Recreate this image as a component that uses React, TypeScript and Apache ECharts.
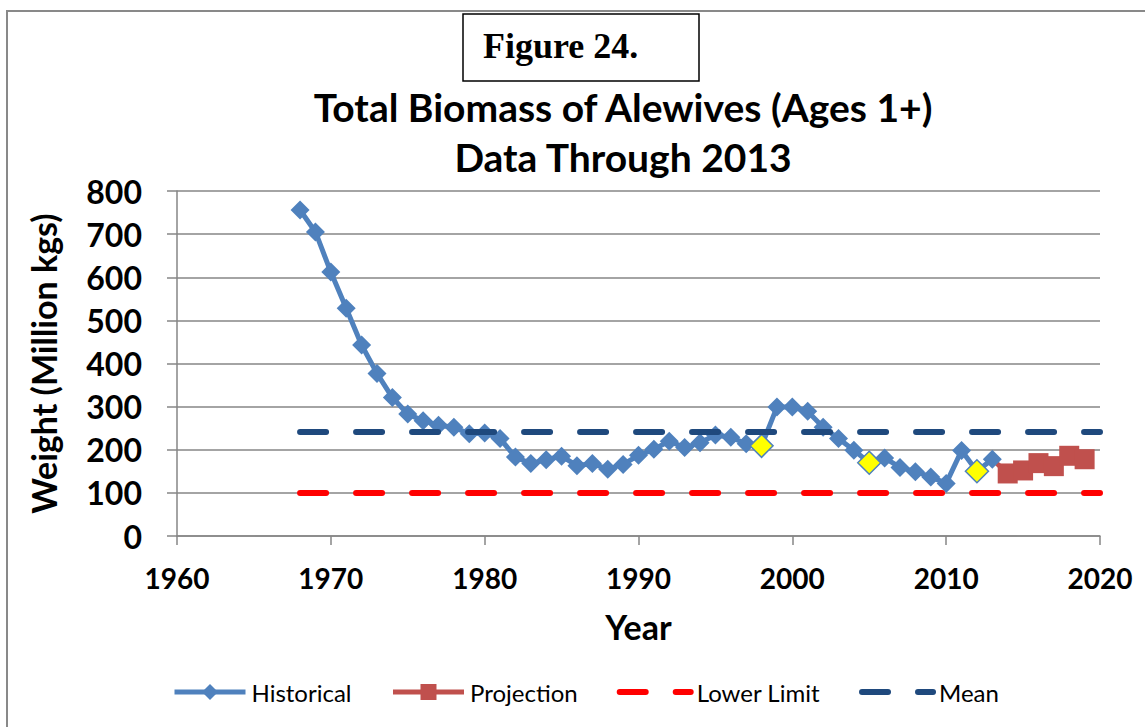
import React, { useEffect, useRef } from "react";
import * as echarts from "echarts";

const histYears = [1968, 1969, 1970, 1971, 1972, 1973, 1974, 1975, 1976, 1977, 1978, 1979, 1980, 1981, 1982, 1983, 1984, 1985, 1986, 1987, 1988, 1989, 1990, 1991, 1992, 1993, 1994, 1995, 1996, 1997, 1998, 1999, 2000, 2001, 2002, 2003, 2004, 2005, 2006, 2007, 2008, 2009, 2010, 2011, 2012, 2013];
const histValues = [756, 705, 612, 528, 443, 377, 321, 283, 267, 257, 252, 237, 239, 226, 183, 168, 177, 185, 163, 168, 155, 166, 187, 201, 220, 205, 216, 234, 229, 214, 209, 299, 299, 289, 252, 226, 199, 170, 181, 159, 149, 137, 122, 198, 150, 178];
const highlightYears = [1998, 2005, 2012];
const projYears = [2013, 2014, 2015, 2016, 2017, 2018, 2019];
const projValues = [178, 145, 152, 169, 162, 186, 178];
const lineYears = [1968, 2020];
const lowerLimit = 100;
const meanValue = 241;
const seriesNames = ["Historical", "Projection", "Lower Limit", "Mean"];

const FONT = "Lato, 'Open Sans', sans-serif";

export default function App() {
  const ref = useRef<HTMLDivElement>(null);
  useEffect(() => {
    if (!ref.current) return;
    const chart = echarts.init(ref.current, null, { renderer: "svg" });
    const histData = histYears.map((y, i) => {
      if (highlightYears.includes(y)) {
        return {
          value: [y, histValues[i]],
          symbolSize: 23,
          itemStyle: { color: "#FFFF00", borderColor: "#4F81BD", borderWidth: 1.5 },
        };
      }
      return { value: [y, histValues[i]] };
    });
    const projData = projYears.map((y, i) =>
      i === 0 ? { value: [y, projValues[i]], symbolSize: 0 } : { value: [y, projValues[i]] }
    );
    chart.setOption({
      animation: false,
      backgroundColor: "#ffffff",
      textStyle: { fontFamily: FONT },
      graphic: [
        { type: "rect", shape: { x: 7, y: 11, width: 1300, height: 900 }, style: { fill: "none", stroke: "#898989", lineWidth: 2 }, silent: true },
        { type: "rect", shape: { x: 463, y: 14, width: 236, height: 67 }, style: { fill: "#ffffff", stroke: "#000000", lineWidth: 1.5 }, silent: true },
        { type: "text", x: 483, y: 46, style: { text: "Figure 24.", fontFamily: "'Liberation Serif', 'Times New Roman', serif", fontWeight: "bold", fontSize: 36, fill: "#000", textAlign: "left", textVerticalAlign: "middle" } },
        { type: "text", x: 623, y: 107, style: { text: "Total Biomass of Alewives (Ages 1+)", fontFamily: FONT, fontWeight: "bold", fontSize: 39, fill: "#000", textAlign: "center", textVerticalAlign: "middle" } },
        { type: "text", x: 623, y: 157, style: { text: "Data Through 2013", fontFamily: FONT, fontWeight: "bold", fontSize: 39, fill: "#000", textAlign: "center", textVerticalAlign: "middle" } },
      ],
      grid: { left: 177, right: 45, top: 191, bottom: 191, containLabel: false },
      legend: {
        data: seriesNames,
        left: 167,
        top: 675,
        itemWidth: 71,
        itemHeight: 20,
        itemGap: 39,
        lineStyle: { width: "inherit" },
        textStyle: { fontFamily: FONT, fontSize: 24, color: "#000", padding: [0, 0, 0, 1] },
      },
      xAxis: {
        type: "value",
        min: 1960,
        max: 2020,
        interval: 10,
        name: "Year",
        nameLocation: "middle",
        nameGap: 73,
        nameTextStyle: { fontFamily: FONT, fontWeight: "bold", fontSize: 34, color: "#000" },
        axisLine: { lineStyle: { color: "#868686", width: 1.5 } },
        axisTick: { show: true, length: 9, inside: false, lineStyle: { color: "#868686", width: 1.5 } },
        axisLabel: { margin: 28, fontFamily: FONT, fontWeight: "bold", fontSize: 28, color: "#000", formatter: (v: number) => String(v) },
        splitLine: { show: false },
      },
      yAxis: {
        type: "value",
        min: 0,
        max: 800,
        interval: 100,
        name: "Weight (Million kgs)",
        nameLocation: "middle",
        nameGap: 117,
        nameRotate: 90,
        nameTextStyle: { fontFamily: FONT, fontWeight: "bold", fontSize: 34, color: "#000" },
        axisLine: { show: true, lineStyle: { color: "#868686", width: 1.5 } },
        axisTick: { show: true, length: 10, inside: false, lineStyle: { color: "#868686", width: 1.5 } },
        axisLabel: { margin: 35, fontFamily: FONT, fontWeight: "bold", fontSize: 32, color: "#000" },
        splitLine: { show: true, lineStyle: { color: "#868686", width: 1.5 } },
      },
      series: [
        {
          name: seriesNames[0],
          type: "line",
          data: histData,
          symbol: "diamond",
          symbolSize: 19,
          itemStyle: { color: "#4F81BD" },
          lineStyle: { color: "#4F81BD", width: 5 },
          z: 3,
        },
        {
          name: seriesNames[1],
          type: "line",
          data: projData,
          symbol: "rect",
          symbolSize: 20,
          itemStyle: { color: "#C0504D" },
          lineStyle: { color: "#C0504D", width: 5 },
          z: 3,
        },
        {
          name: seriesNames[2],
          type: "line",
          data: lineYears.map((y) => [y, lowerLimit]),
          symbol: "none",
          itemStyle: { color: "#FF0000", opacity: 0 },
          lineStyle: { color: "#FF0000", width: 6, type: [26, 30], cap: "round", opacity: 1 },
          z: 4,
        },
        {
          name: seriesNames[3],
          type: "line",
          data: lineYears.map((y) => [y, meanValue]),
          symbol: "none",
          itemStyle: { color: "#1F497D", opacity: 0 },
          lineStyle: { color: "#1F497D", width: 6, type: [26, 30], cap: "round", opacity: 1 },
          z: 4,
        },
      ],
    });
    return () => chart.dispose();
  }, []);
  return (
    <div
      ref={ref}
      style={{ position: "fixed", left: 0, top: 0, width: 1145, height: 727, background: "#fff" }}
    />
  );
}
